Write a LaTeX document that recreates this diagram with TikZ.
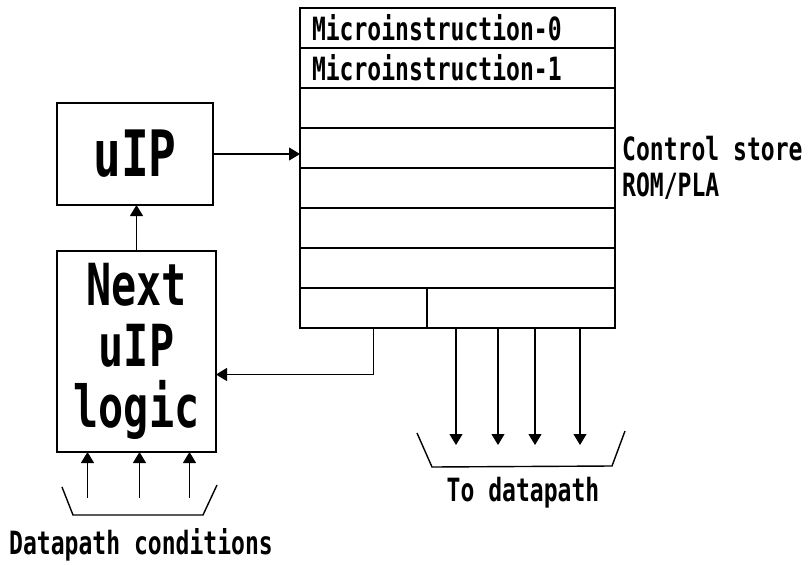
\documentclass[tikz,border=0pt]{standalone}
\usepackage{fontspec}
\usetikzlibrary{arrows.meta,positioning}
\newfontfamily\pixfont[FakeStretch=0.72]{DejaVu Sans Mono}

\begin{document}
\begin{tikzpicture}[x=1pt,y=-1pt,
        box/.style={draw, line width=2pt, inner sep=0pt, outer sep=0pt},
        row/.style={box, minimum height=40pt},
        arr/.style={line width=1.1pt, -{Triangle[length=11pt,width=13pt]}},
        tray/.style={line width=1.4pt},
        lbl/.style={font=\pixfont\bfseries\fontsize{32}{36}\selectfont, inner sep=0pt}]
        \useasboundingbox (0,0) rectangle (809,565);

        % Control store - eight rows
        \node[row, lbl, anchor=north west, minimum width=315pt, text width=291pt, inner xsep=12pt, align=left] (row0) at (300,8) {Microinstruction-0};
        \node[row, lbl, below=0pt of row0, minimum width=315pt, text width=291pt, inner xsep=12pt, align=left] (row1) {Microinstruction-1};
        \foreach \i [count=\p from 1] in {2,...,6}
            \node[row, minimum width=315pt, below=0pt of row\p] (row\i) {};
        % last row is split in two fields
        \node[row, minimum width=127pt, below right=0pt and 0pt of row6.south west] (row7a) {};
        \node[row, minimum width=188pt, right=0pt of row7a] (row7b) {};
        \node[lbl, anchor=west, align=left] (cslabel) at ([xshift=7pt]row4.north east) {Control store\\ROM/PLA};

        % uIP and next uIP logic
        \node[box, minimum width=156pt, minimum height=102pt, font=\pixfont\bfseries\fontsize{64}{64}\selectfont] (uip) at (135,154) {uIP};
        \node[box, minimum width=159pt, minimum height=201pt, align=center, font=\pixfont\bfseries\fontsize{58}{61}\selectfont] (next) at (136.5,351.5) {Next\\uIP\\logic};

        \draw[arr] (next.north) -- (next.north |- uip.south);
        \draw[arr] (uip.east) -- (uip.east -| row3.west);
        \draw[arr] ([xshift=10pt]row7a.south) |- ([yshift=-23pt]next.east);

        % To datapath
        \foreach \dx [count=\k] in {-65,-23,14,59} {
            \coordinate (out\k) at ([xshift=\dx pt, yshift=-117pt]row7b.south);
            \draw[arr] (out\k |- row7b.south) -- (out\k);
        }
        \draw[tray] (417,433) -- (432,467) -- (612,466) -- (625,431);
        \node[lbl] (todp) at (523,493) {To datapath};

        % Datapath conditions
        \foreach \dx [count=\k] in {-49,3,53} {
            \coordinate (in\k) at ([xshift=\dx pt, yshift=-46pt]next.south);
            \draw[arr] (in\k) -- (in\k |- next.south);
        }
        \draw[tray] (62,487) -- (73,515) -- (203,515) -- (217,485);
        \node[lbl] (dpcond) at (141,545) {Datapath conditions};
    \end{tikzpicture}
\end{document}
